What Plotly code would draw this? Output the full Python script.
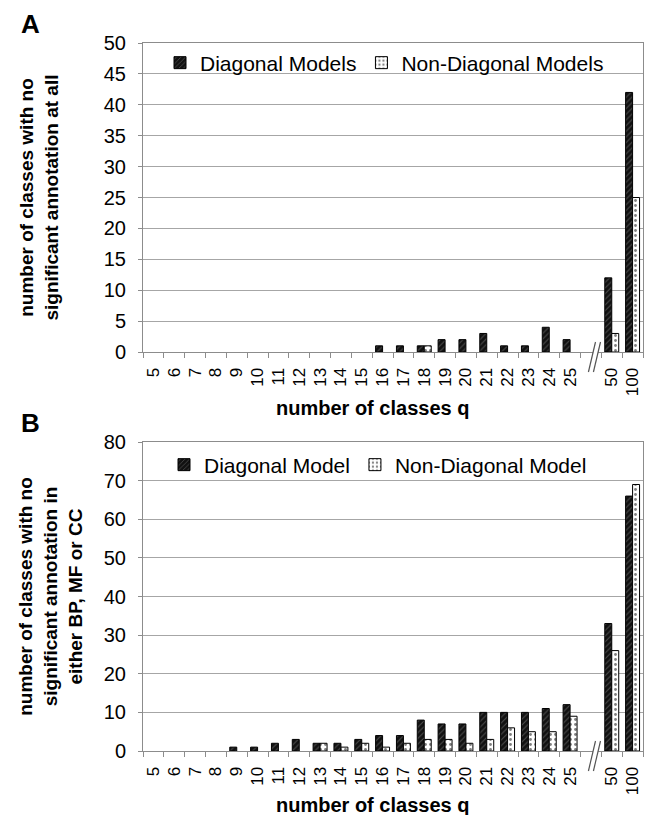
import plotly.graph_objects as go

# ---------------- data ----------------
q_labels = ["5", "6", "7", "8", "9", "10", "11", "12", "13", "14", "15", "16",
            "17", "18", "19", "20", "21", "22", "23", "24", "25", "50", "100"]
gap_label = " "
axis_categories = q_labels[:21] + [gap_label] + q_labels[21:]

a_diagonal = [0, 0, 0, 0, 0, 0, 0, 0, 0, 0, 0, 1, 1, 1, 2, 2, 3, 1, 1, 4, 2, 12, 42]
a_nondiagonal = [0, 0, 0, 0, 0, 0, 0, 0, 0, 0, 0, 0, 0, 1, 0, 0, 0, 0, 0, 0, 0, 3, 25]

b_diagonal = [0, 0, 0, 0, 1, 1, 2, 3, 2, 2, 3, 4, 4, 8, 7, 7, 10, 10, 10, 11, 12, 33, 66]
b_nondiagonal = [0, 0, 0, 0, 0, 0, 0, 0, 2, 1, 2, 1, 2, 3, 3, 2, 3, 6, 5, 5, 9, 26, 69]

a_names = ["Diagonal Models", "Non-Diagonal Models"]
b_names = ["Diagonal Model", "Non-Diagonal Model"]

# ---------------- styling ----------------
FONT = "Liberation Sans, Arial, sans-serif"
GRID = "#a6a6a6"
AXIS = "#8c8c8c"

diag_marker = dict(color="#111111",
                   pattern=dict(shape="/", fgcolor="#8a8a8a", bgcolor="#111111",
                                size=4, solidity=0.25),
                   line=dict(color="#000000", width=1))
nondiag_marker = dict(color="#ffffff",
                      pattern=dict(shape=".", fgcolor="#000000", bgcolor="#ffffff",
                                   size=5, solidity=0.25),
                      line=dict(color="#000000", width=1))


def drawn(values):
    # zero-count bars are not drawn (as in the original chart)
    return [v if v else None for v in values]


fig = go.Figure()
fig.add_trace(go.Bar(x=q_labels, y=drawn(a_diagonal), name=a_names[0], marker=diag_marker,
                     xaxis="x", yaxis="y", legend="legend"))
fig.add_trace(go.Bar(x=q_labels, y=drawn(a_nondiagonal), name=a_names[1], marker=nondiag_marker,
                     xaxis="x", yaxis="y", legend="legend"))
fig.add_trace(go.Bar(x=q_labels, y=drawn(b_diagonal), name=b_names[0], marker=diag_marker,
                     xaxis="x2", yaxis="y2", legend="legend2"))
fig.add_trace(go.Bar(x=q_labels, y=drawn(b_nondiagonal), name=b_names[1], marker=nondiag_marker,
                     xaxis="x2", yaxis="y2", legend="legend2"))

# plot-area geometry in pixels: left 143, right 643, A: 43-352, B: 442-751
W, H = 646, 815
ML, MR, MT, MB = 143, 3, 43, 64
PH = H - MT - MB


def py(pix):
    return (H - MB - pix) / PH


def px(pix):
    return (pix - ML) / (W - ML - MR)


xaxis_common = dict(type="category", categoryorder="array", categoryarray=axis_categories,
                    tickson="boundaries", ticks="outside", ticklen=5, tickcolor=AXIS,
                    tickangle=-90, ticklabelstandoff=8, showline=True, linecolor=AXIS,
                    mirror=True, showgrid=False, tickfont=dict(size=17, color="#000"),
                    range=[-0.5, len(axis_categories) - 0.5], automargin=False)
yaxis_common = dict(showline=True, linecolor=AXIS, mirror=True, ticks="outside",
                    ticklen=4, tickcolor=AXIS, ticklabelstandoff=8, showgrid=True,
                    gridcolor=GRID, gridwidth=1, zeroline=False,
                    tickfont=dict(size=20, color="#000"), automargin=False)

legend_common = dict(orientation="h", xanchor="left", yanchor="middle",
                     font=dict(size=21), bgcolor="rgba(0,0,0,0)", traceorder="normal",
                     itemwidth=30)

fig.update_layout(
    width=W, height=H,
    margin=dict(l=ML, r=MR, t=MT, b=MB),
    paper_bgcolor="white", plot_bgcolor="white",
    font=dict(family=FONT, color="#000"),
    barmode="group", bargap=0.33, bargroupgap=0.0,
    xaxis=dict(**xaxis_common, anchor="y", domain=[0, 1]),
    yaxis=dict(**yaxis_common, anchor="x", domain=[py(352), py(43)],
               range=[0, 50], dtick=5,
               title=dict(text="<b>number of classes with no<br>significant annotation at all</b>",
                          font=dict(size=19), standoff=40)),
    xaxis2=dict(**xaxis_common, anchor="y2", domain=[0, 1]),
    yaxis2=dict(**yaxis_common, anchor="x2", domain=[0, py(442)],
                range=[0, 80], dtick=10,
                title=dict(text="<b>number of classes with no<br>significant annotation in<br>either BP, MF or CC</b>",
                           font=dict(size=19), standoff=16)),
    legend=dict(**legend_common, x=px(160), y=py(63)),
    legend2=dict(**legend_common, x=px(164), y=py(465)),
    annotations=[
        dict(text="<b>number of classes q</b>", x=px(372), y=py(408), xref="paper", yref="paper",
             xanchor="center", yanchor="middle", showarrow=False, font=dict(size=20)),
        dict(text="<b>number of classes q</b>", x=px(372), y=py(805), xref="paper", yref="paper",
             xanchor="center", yanchor="middle", showarrow=False, font=dict(size=20)),
        dict(text="<b>A</b>", x=px(19), y=py(24), xref="paper", yref="paper",
             xanchor="left", yanchor="middle", showarrow=False, font=dict(size=26)),
        dict(text="<b>B</b>", x=px(19), y=py(423), xref="paper", yref="paper",
             xanchor="left", yanchor="middle", showarrow=False, font=dict(size=26)),
    ],
)

# axis-break "//" marks on the gap slot
gap_idx = axis_categories.index(gap_label)
shapes = []
for xr, yr, dom_h in (("x", "y domain", 309), ("x2", "y2 domain", 309)):
    lo, hi = -20 / dom_h, 10 / dom_h
    x1a, x1b = gap_idx - 0.12, gap_idx + 0.22
    x2a, x2b = gap_idx + 0.12, gap_idx + 0.46
    shapes.append(dict(type="path", xref=xr, yref=yr,
                       path=f"M {x1a},{lo} L {x2a},{lo} L {x2b},{hi} L {x1b},{hi} Z",
                       fillcolor="white", line=dict(width=0)))
    shapes.append(dict(type="line", xref=xr, yref=yr, x0=x1a, y0=lo, x1=x1b, y1=hi,
                       line=dict(color="#555", width=1.2)))
    shapes.append(dict(type="line", xref=xr, yref=yr, x0=x2a, y0=lo, x1=x2b, y1=hi,
                       line=dict(color="#555", width=1.2)))
fig.update_layout(shapes=shapes)

fig.write_html("out.html")
